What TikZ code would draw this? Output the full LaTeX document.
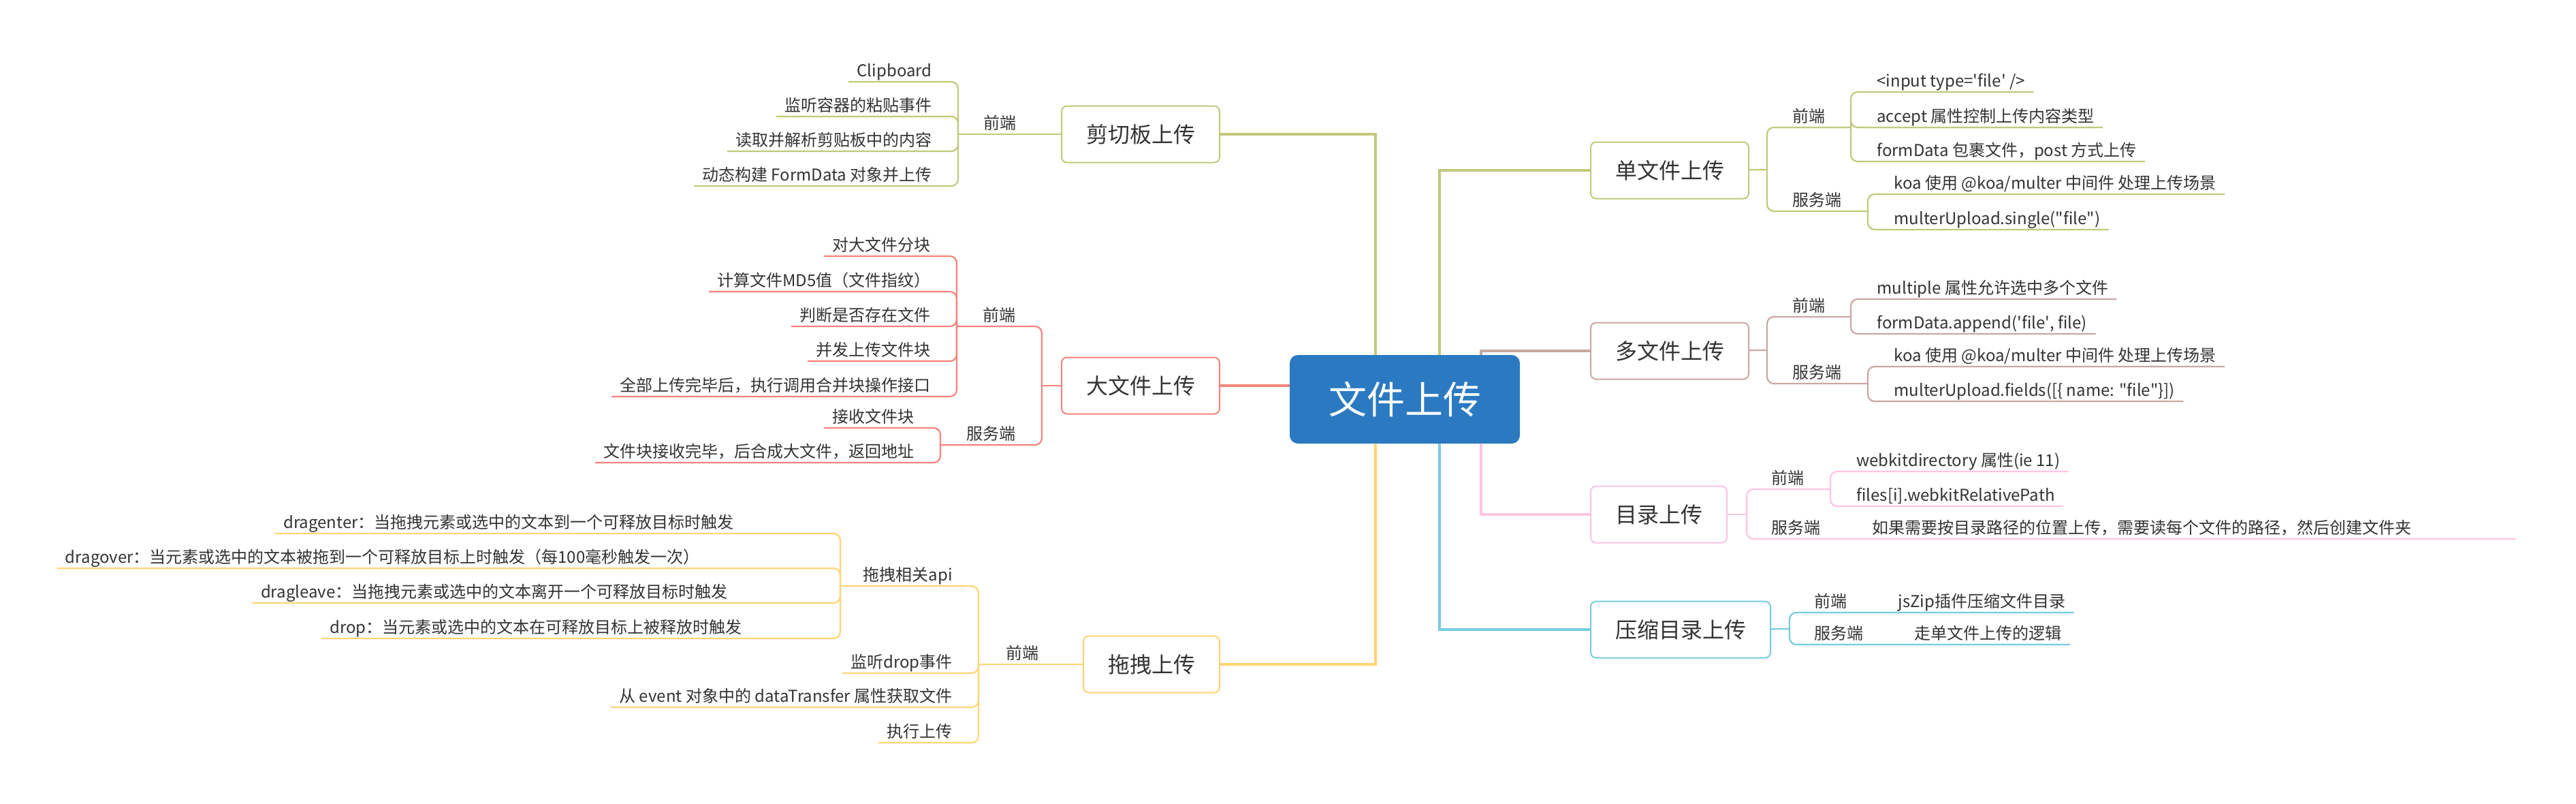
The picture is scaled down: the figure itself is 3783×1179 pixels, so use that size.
\documentclass[tikz,border=0pt]{standalone}
\usepackage{fontspec}
\setmainfont{Noto Sans CJK SC}
\usepackage{tikz}
\definecolor{hubblue}{HTML}{2B7AC1}
\definecolor{clipc}{HTML}{C1C97A}
\definecolor{bigc}{HTML}{F7837B}
\definecolor{dragc}{HTML}{FFD475}
\definecolor{singlec}{HTML}{C1C97A}
\definecolor{multic}{HTML}{C8A8A2}
\definecolor{dirc}{HTML}{FFC3E3}
\definecolor{zipc}{HTML}{79CBE0}
\definecolor{ink}{HTML}{333333}
\newcommand{\lleaf}[5]{%
 \node[leaf,anchor=south east] (#1) at (#2) {#3};%
 \draw[twig=#5] (#4) |- (#1.south west);%
}
\newcommand{\rleaf}[5]{%
 \node[leaf,anchor=south west] (#1) at (#2) {#3};%
 \draw[twig=#5] (#4) |- (#1.south east);%
}

\begin{document}
\begin{tikzpicture}[x=0.5pt,y=-0.5pt,
  hub/.style={fill=hubblue,text=white,rounded corners=6pt,font=\fontsize{28}{34}\selectfont,minimum width=169pt,minimum height=65pt,text height=24.6pt,text depth=3.4pt},
  topic/.style={draw=#1,fill=white,line width=1pt,rounded corners=4pt,text=ink,font=\fontsize{16}{20}\selectfont,inner xsep=18pt,minimum height=41.5pt,text height=14pt,text depth=2pt},
  leaf/.style={text=ink,font=\fontsize{12}{14}\selectfont,inner xsep=6pt,inner ysep=0pt,text height=10pt,text depth=3.5pt},
  link/.style={draw=#1,line width=1.6pt},
  twig/.style={draw=#1,line width=1.1pt,rounded corners=5pt}]
  \path[fill=white,use as bounding box] (0,0) rectangle (3783,1179);
  \node[hub] (hub) at (2063,586) {文件上传};
  \node[topic=clipc,anchor=east] (clip) at (1792,197) {剪切板上传};
  \node[topic=bigc,anchor=east] (big) at (1792,566) {大文件上传};
  \node[topic=dragc,anchor=east] (drag) at (1792,975) {拖拽上传};
  \node[topic=singlec,anchor=west] (single) at (2335,250) {单文件上传};
  \node[topic=multic,anchor=west] (multi) at (2335,515) {多文件上传};
  \node[topic=dirc,anchor=west] (dir) at (2335,755) {目录上传};
  \node[topic=zipc,anchor=west] (zip) at (2335,924) {压缩目录上传};
  \draw[link=clipc] (clip) -| ([xshift=-21.5pt]hub.north);
  \draw[link=bigc] (big.east) -- (big.east -| hub.west);
  \draw[link=dragc] (drag) -| ([xshift=-21.5pt]hub.south);
  \draw[link=singlec] ([xshift=25.5pt]hub.north) |- (single);
  \draw[link=multic] ([xshift=56pt]hub.north) |- (multi);
  \draw[link=dirc] ([xshift=56pt]hub.south) |- (dir);
  \draw[link=zipc] ([xshift=25.5pt]hub.south) |- (zip);

  \node[leaf,anchor=south east] (clipfe) at (1505,197) {前端};
  \coordinate (clipfeJ) at (1407,197);
  \draw[twig=clipc] (clip) -- (clipfeJ);
  \lleaf{clip1}{1381,120}{Clipboard}{clipfeJ}{clipc}
  \lleaf{clip2}{1381,171}{监听容器的粘贴事件}{clipfeJ}{clipc}
  \lleaf{clip3}{1381,222}{读取并解析剪贴板中的内容}{clipfeJ}{clipc}
  \lleaf{clip4}{1381,273}{动态构建 FormData 对象并上传}{clipfeJ}{clipc}

  \coordinate (bigJ) at (1530,566);
  \draw[twig=bigc] (big) -- (bigJ);
  \node[leaf,anchor=south east] (bigfe) at (1504,479) {前端};
  \node[leaf,anchor=south east] (bigbe) at (1504,653) {服务端};
  \coordinate (bigfeJ) at (1405,479);
  \coordinate (bigbeJ) at (1381,653);
  \draw[twig=bigc] (bigJ) |- (bigfeJ);
  \draw[twig=bigc] (bigJ) |- (bigbeJ);
  \lleaf{big1}{1379,376}{对大文件分块}{bigfeJ}{bigc}
  \lleaf{big2}{1379,428}{计算文件MD5值（文件指纹）}{bigfeJ}{bigc}
  \lleaf{big3}{1379,479}{判断是否存在文件}{bigfeJ}{bigc}
  \lleaf{big4}{1379,530}{并发上传文件块}{bigfeJ}{bigc}
  \lleaf{big5}{1379,582}{全部上传完毕后，执行调用合并块操作接口}{bigfeJ}{bigc}
  \lleaf{big6}{1355,628}{接收文件块}{bigbeJ}{bigc}
  \lleaf{big7}{1355,679}{文件块接收完毕，后合成大文件，返回地址}{bigbeJ}{bigc}

  \node[leaf,anchor=south east] (dragfe) at (1538,975) {前端};
  \coordinate (dragfeJ) at (1437,975);
  \draw[twig=dragc] (drag) -- (dragfeJ);
  \node[leaf,anchor=south east] (dragapi) at (1411,860) {拖拽相关api};
  \coordinate (dragapiJ) at (1234,860);
  \draw[twig=dragc] (dragfeJ) |- (dragapiJ);
  \lleaf{drag1}{1090,783}{dragenter：当拖拽元素或选中的文本到一个可释放目标时触发}{dragapiJ}{dragc}
  \lleaf{drag2}{1040,834}{dragover：当元素或选中的文本被拖到一个可释放目标上时触发（每100毫秒触发一次）}{dragapiJ}{dragc}
  \lleaf{drag3}{1081,885}{dragleave：当拖拽元素或选中的文本离开一个可释放目标时触发}{dragapiJ}{dragc}
  \lleaf{drag4}{1102,937}{drop：当元素或选中的文本在可释放目标上被释放时触发}{dragapiJ}{dragc}
  \lleaf{drag5}{1411,988}{监听drop事件}{dragfeJ}{dragc}
  \lleaf{drag6}{1411,1038}{从 event 对象中的 dataTransfer 属性获取文件}{dragfeJ}{dragc}
  \lleaf{drag7}{1411,1090}{执行上传}{dragfeJ}{dragc}

  \coordinate (singleJ) at (2595,249);
  \draw[twig=singlec] (single) -- (singleJ);
  \node[leaf,anchor=south west] (singlefe) at (2620,187) {前端};
  \node[leaf,anchor=south west] (singlebe) at (2620,310) {服务端};
  \coordinate (singlefeJ) at (2718,187);
  \coordinate (singlebeJ) at (2743,310);
  \draw[twig=singlec] (singleJ) |- (singlefeJ);
  \draw[twig=singlec] (singleJ) |- (singlebeJ);
  \rleaf{single1}{2744,135}{<input type=\textquotesingle file\textquotesingle{} />}{singlefeJ}{singlec}
  \rleaf{single2}{2744,187}{accept 属性控制上传内容类型}{singlefeJ}{singlec}
  \rleaf{single3}{2744,237}{formData 包裹文件，post 方式上传}{singlefeJ}{singlec}
  \rleaf{single4}{2769,285}{koa 使用 @koa/multer 中间件 处理上传场景}{singlebeJ}{singlec}
  \rleaf{single5}{2769,337}{multerUpload.single(\textquotedbl file\textquotedbl)}{singlebeJ}{singlec}

  \coordinate (multiJ) at (2595,514);
  \draw[twig=multic] (multi) -- (multiJ);
  \node[leaf,anchor=south west] (multife) at (2620,465) {前端};
  \node[leaf,anchor=south west] (multibe) at (2620,563) {服务端};
  \coordinate (multifeJ) at (2718,465);
  \coordinate (multibeJ) at (2743,563);
  \draw[twig=multic] (multiJ) |- (multifeJ);
  \draw[twig=multic] (multiJ) |- (multibeJ);
  \rleaf{multi1}{2744,439}{multiple 属性允许选中多个文件}{multifeJ}{multic}
  \rleaf{multi2}{2744,490}{formData.append(\textquotesingle file\textquotesingle, file)}{multifeJ}{multic}
  \rleaf{multi3}{2769,538}{koa 使用 @koa/multer 中间件 处理上传场景}{multibeJ}{multic}
  \rleaf{multi4}{2769,589}{multerUpload.fields([\{ name: \textquotedbl file\textquotedbl\}])}{multibeJ}{multic}

  \coordinate (dirJ) at (2565,755);
  \draw[twig=dirc] (dir) -- (dirJ);
  \node[leaf,anchor=south west] (dirfe) at (2589,718) {前端};
  \node[leaf,anchor=south west] (dirbe) at (2589,791) {服务端};
  \coordinate (dirfeJ) at (2688,718);
  \draw[twig=dirc] (dirJ) |- (dirfeJ);
  \rleaf{dir1}{2714,692}{webkitdirectory 属性(ie 11)}{dirfeJ}{dirc}
  \rleaf{dir2}{2714,743}{files[i].webkitRelativePath}{dirfeJ}{dirc}
  \node[leaf,anchor=south west] (dir3) at (2737,791) {如果需要按目录路径的位置上传，需要读每个文件的路径，然后创建文件夹};
  \coordinate (dirEnd) at (3695,791);
  \draw[twig=dirc] (dirJ) |- (dirEnd);

  \coordinate (zipJ) at (2628,923);
  \draw[twig=zipc] (zip) -- (zipJ);
  \node[leaf,anchor=south west] (zipfe) at (2652,899) {前端};
  \node[leaf,anchor=south west] (zipbe) at (2652,946) {服务端};
  \rleaf{zip1}{2775,899}{jsZip插件压缩文件目录}{zipJ}{zipc}
  \rleaf{zip2}{2799,946}{走单文件上传的逻辑}{zipJ}{zipc}
\end{tikzpicture}
\end{document}
